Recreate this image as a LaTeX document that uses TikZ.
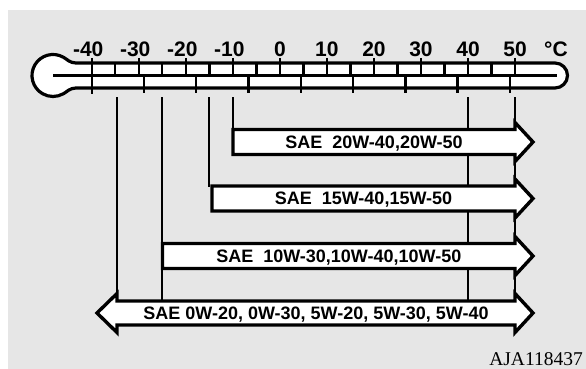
\documentclass[tikz,border=0pt]{standalone}
\usepackage{fontspec}
\setmainfont{Liberation Sans}
\newfontfamily\codefont{Liberation Serif}
\definecolor{bgcol}{RGB}{230,230,230}
\begin{document}
\begin{tikzpicture}[x=1pt,y=-1pt,
  outline/.style={draw=black,line width=3.2pt,fill=white,line join=round},
  arrowbox/.style={draw=black,line width=3.4pt,fill=white,line join=miter,miter limit=10},
  tickline/.style={line width=2.4pt},
  guide/.style={line width=2pt},
  scalelabel/.style={inner sep=0pt,anchor=base,font=\fontsize{21}{21}\selectfont\bfseries},
  saelabel/.style={inner sep=0pt,anchor=base,font=\fontsize{18}{18}\selectfont\bfseries},
  codelabel/.style={inner sep=0pt,anchor=base east,font=\fontsize{19.5}{19.5}\selectfont\codefont}]
\useasboundingbox (0,0) rectangle (586,369);
\fill[bgcol] (7.5,10) rectangle (586,369);
% vertical guide lines (behind arrows)
\coordinate (g35a) at (116.5,97);  \coordinate (g35b) at (116.5,293);
\coordinate (g25a) at (161.5,97);  \coordinate (g25b) at (161.5,301);
\coordinate (g15a) at (208.5,97);  \coordinate (g15b) at (208.5,187);
\coordinate (g10a) at (232.5,97);  \coordinate (g10b) at (232.5,130);
\coordinate (g40a) at (467.5,97);  \coordinate (g40b) at (467.5,301);
\coordinate (g50a) at (514.5,97);  \coordinate (g50b) at (514.5,301);
\foreach \g in {35,25,15,10,40,50} \draw[guide] (g\g a) -- (g\g b);
% thermometer body
\draw[outline] (76,63) .. controls (70,63) and (67,59.3) .. (63.5,57.3)
  arc[start angle=-60,end angle=-300,radius=21]
  .. controls (67,91.7) and (70,88) .. (76,88) -- (555,88)
  arc[start angle=90,end angle=-90,radius=12.5] -- cycle;
\draw[tickline] (53,75.5) -- (557,75.5);
% Celsius ticks
\draw[tickline] (91.7,58) -- (91.7,94);
\foreach \c in {-30,-20,...,50} \draw[tickline] ({91.7+(\c+40)*4.704},58) -- ({91.7+(\c+40)*4.704},75.5);
\foreach \c in {-35,-25,...,45} \draw[tickline] ({91.7+(\c+40)*4.704},63) -- ({91.7+(\c+40)*4.704},75.5);
% Fahrenheit ticks
\foreach \f in {-20,0,...,120} \draw[tickline] ({91.7+((\f-32)*5/9+40)*4.704},75.5) -- ({91.7+((\f-32)*5/9+40)*4.704},93);
% scale labels
\foreach \c/\t in {-40/{\llap{-}40},-30/{\llap{-}30},-20/{\llap{-}20},-10/{\llap{-}10},0/0,10/10,20/20,30/30,40/40,50/50}
  \node[scalelabel] (lab\c) at ({91.7+(\c+40)*4.704},56.5) {\t};
\node[scalelabel] (unit) at (556,56.5) {°C};
% arrows
\draw[arrowbox] (233,129.5) -- (515,129.5) -- (515,122.5) -- (533,142) -- (515,161.5) -- (515,154.5) -- (233,154.5) -- cycle;
\node[saelabel] (t20) at (374,148.4) {SAE\ \ 20W-40,20W-50};
\draw[arrowbox] (212,186) -- (515,186) -- (515,179) -- (533,198.5) -- (515,218) -- (515,211) -- (212,211) -- cycle;
\node[saelabel] (t15) at (363.5,204.9) {SAE\ \ 15W-40,15W-50};
\draw[arrowbox] (162.5,243.5) -- (515,243.5) -- (515,236.5) -- (533,256) -- (515,275.5) -- (515,268.5) -- (162.5,268.5) -- cycle;
\node[saelabel] (t10) at (338.8,262.4) {SAE\ \ 10W-30,10W-40,10W-50};
\draw[arrowbox] (117,301) -- (515,301) -- (515,293.5) -- (533,313) -- (515,332.5) -- (515,325) -- (117,325) -- (117,332.5) -- (97,313) -- (117,293.5) -- cycle;
\node[saelabel] (t0) at (316,319.4) {SAE 0W-20, 0W-30, 5W-20, 5W-30, 5W-40};
\node[codelabel] (code) at (583,365.5) {AJA118437};
\end{tikzpicture}
\end{document}
